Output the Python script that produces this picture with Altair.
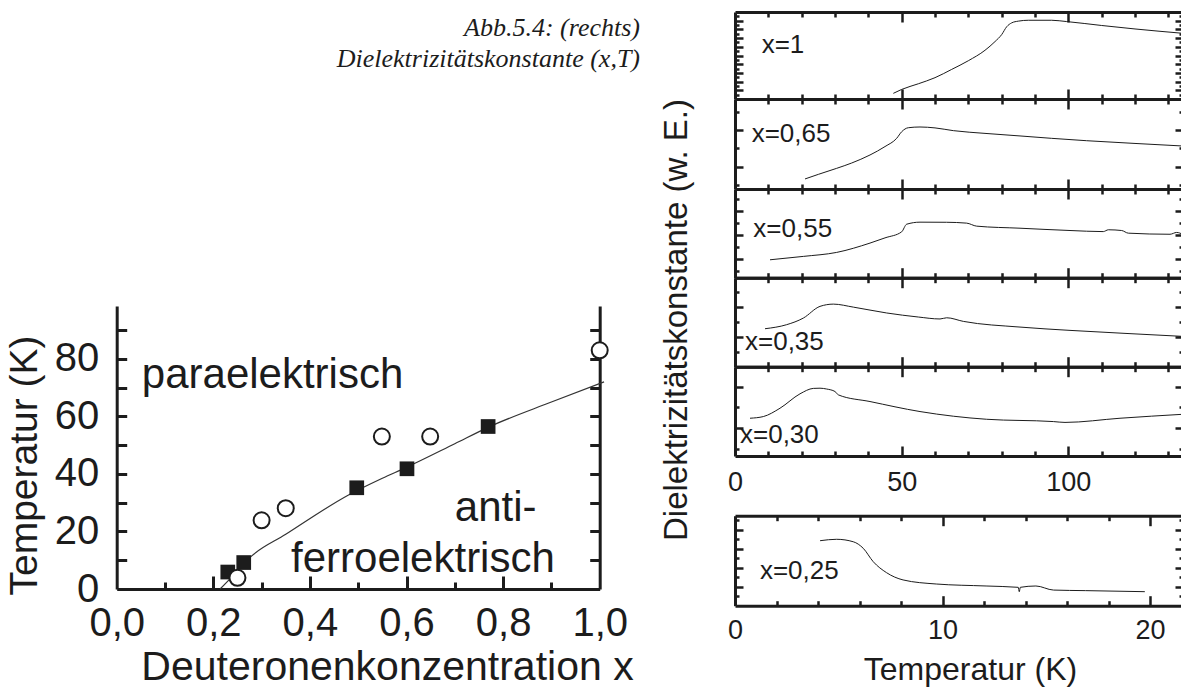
import altair as alt
import pandas as pd

W, H = 1181, 688
INK = "#1c1c1c"
SANS = "Liberation Sans, Arial, sans-serif"
SERIF = "Liberation Serif, Times New Roman, serif"

# ---------------- phase diagram T_N(x) ----------------
square_x = [0.23, 0.263, 0.497, 0.601, 0.769]
square_T = [5.9, 9.2, 35.2, 41.8, 56.5]
circle_x = [0.25, 0.30, 0.35, 0.549, 0.649, 1.0]
circle_T = [3.9, 23.9, 28.1, 53.0, 53.0, 83.0]
guide_x = [0.214, 0.24, 0.276, 0.35, 0.48, 0.55, 0.6, 0.7, 0.77, 0.9, 1.009]
guide_T = [0.0, 4.5, 11.0, 19.0, 32.7, 38.5, 42.3, 50.5, 56.3, 65.0, 72.0]
phase_names = ["paraelektrisch", "anti-", "ferroelektrisch"]
conc_ticks = [0.0, 0.2, 0.4, 0.6, 0.8, 1.0]
temp_ticks = [0, 20, 40, 60, 80]

# ---------------- dielectric constant (arb. units) vs T ----------------
T_100 = [47.5, 50, 55, 60, 65, 70, 75, 78, 80, 81.5, 83, 85, 88, 95, 99.5, 110, 120, 134.4]
eps_100 = [1.3, 2.2, 3.5, 4.9, 6.8, 8.8, 11.2, 13.2, 14.8, 16.6, 17.5, 17.9, 18.1, 18.1, 17.8, 16.9, 16.1, 15.1]

T_065 = [21, 25, 30.5, 35, 40.5, 45, 48.5, 50, 52, 55.5, 60, 65.5, 75, 85.5, 95, 105.5, 120, 134.4]
eps_065 = [1.33, 1.58, 1.91, 2.2, 2.64, 3.1, 3.55, 3.91, 4.13, 4.17, 4.12, 3.97, 3.82, 3.68, 3.55, 3.42, 3.27, 3.13]

T_055 = [10.5, 20.5, 30.5, 40.5, 45, 50, 51.5, 55.5, 63.5, 69.5, 72.5, 85.5, 100.5, 110.5, 112, 116, 118, 130.5, 132.5, 134.4]
eps_055 = [1.94, 2.22, 2.55, 3.32, 3.75, 4.25, 4.88, 5.05, 5.04, 4.97, 4.72, 4.55, 4.36, 4.27, 4.42, 4.36, 4.14, 4.05, 4.2, 4.03]

T_035 = [9, 15.5, 20.5, 25.5, 29.5, 35.5, 45.5, 55, 61.5, 63.5, 68.5, 85.5, 100.5, 117, 134.4]
eps_035 = [2.55, 2.82, 3.26, 4.04, 4.19, 3.99, 3.6, 3.33, 3.2, 3.28, 3.04, 2.66, 2.44, 2.24, 2.04]

T_030 = [4.5, 8.5, 13.5, 19.5, 23.5, 25.5, 27.5, 30, 31, 40.5, 55.5, 75.5, 95.5, 99, 115.5, 134.4]
eps_030 = [2.48, 2.56, 2.96, 3.65, 3.91, 3.92, 3.88, 3.76, 3.6, 3.28, 2.8, 2.43, 2.32, 2.28, 2.48, 2.67]

T_025 = [4.1, 4.9, 5.7, 6.18, 6.66, 7.3, 8.1, 9.7, 12.1, 13.65, 13.7, 13.75, 14.5, 15.35, 16.9, 19.75]
eps_025 = [6.86, 7.01, 6.75, 6.06, 4.65, 3.49, 2.72, 2.29, 2.08, 1.94, 1.48, 1.94, 2.08, 1.65, 1.59, 1.48]

caption_lines = ["Abb.5.4: (rechts)", "Dielektrizitätskonstante (x,T)"]
eps_title = "Dielektrizitätskonstante (w. E.)"
temp_title = "Temperatur (K)"
conc_title = "Deuteronenkonzentration x"

# ---------------- layout ----------------
# frame boxes in pixels: (left, right, bottom, top)
PANELS = [
    dict(tag="x=1", T=T_100, eps=eps_100, xdom=[0, 134.4], ydom=[0, 20], box=(735, 1183, 99, 12),
         xticks=list(range(10, 131, 10)), xlong="datum.value % 50 === 0", yticks=list(range(1, 20)), tag_at=(8.0, 10.5)),
    dict(tag="x=0,65", T=T_065, eps=eps_065, xdom=[0, 134.4], ydom=[0.78, 5.7], box=(735, 1183, 189, 99),
         xticks=list(range(10, 131, 10)), xlong="datum.value % 50 === 0", yticks=[1, 2, 3, 4, 5], tag_at=(5.0, 3.37)),
    dict(tag="x=0,55", T=T_055, eps=eps_055, xdom=[0, 134.4], ydom=[0.46, 7.79], box=(735, 1183, 277.7, 189),
         xticks=list(range(10, 131, 10)), xlong="datum.value % 50 === 0", yticks=[1, 2, 3, 4, 5, 6, 7], tag_at=(5.5, 3.86)),
    dict(tag="x=0,35", T=T_035, eps=eps_035, xdom=[0, 134.4], ydom=[0.02, 5.95], box=(735, 1183, 366.7, 277.7),
         xticks=list(range(10, 131, 10)), xlong="datum.value % 50 === 0", yticks=[1, 2, 3, 4, 5], tag_at=(3.0, 1.15)),
    dict(tag="x=0,30", T=T_030, eps=eps_030, xdom=[0, 134.4], ydom=[0.67, 4.95], box=(735, 1183, 456, 366.7),
         xticks=list(range(10, 131, 10)), xlong="datum.value % 50 === 0", yticks=[1, 2, 3, 4], tag_at=(1.5, 1.31),
         labels=[0, 50, 100], pad=13),
    dict(tag="x=0,25", T=T_025, eps=eps_025, xdom=[0, 21.59], ydom=[0, 9.5], box=(735, 1183, 605.7, 515.7),
         xticks=list(range(2, 21, 2)), xlong="datum.value % 10 === 0", yticks=list(range(1, 10)), tag_at=(1.2, 2.82),
         labels=[0, 10, 20], pad=12, title=temp_title),
]


def cond_size(test, long, short):
    return {"condition": {"test": test, "value": long}, "value": short}


def edge_axis(orient, offset, values, size, width=2.5):
    # frame side drawn as an axis domain, ticks pointing into the panel
    return alt.Axis(orient=orient, offset=offset, values=values, labels=False, title=None,
                    grid=False, domain=True, domainColor=INK, domainWidth=3,
                    ticks=True, tickColor=INK, tickWidth=width, tickSize=size)


layers = []

# ---------------- right column: six ε(T) panels ----------------
for p in PANELS:
    x0, x1, yb, yt = p["box"]
    xs = alt.Scale(domain=p["xdom"], range=[x0, x1])
    ys = alt.Scale(domain=p["ydom"], range=[yb, yt])
    ylong = "datum.value % 2 === 0"
    df = pd.DataFrame({"T": p["T"], "eps": p["eps"]})
    base = alt.Chart(df)

    layers.append(base.mark_line(strokeOpacity=0).encode(
        x=alt.X("T:Q", scale=xs, axis=edge_axis("top", -yb, p["xticks"], cond_size(p["xlong"], 10, 5))),
        y=alt.Y("eps:Q", scale=ys, axis=edge_axis("left", -x1, p["yticks"], cond_size(ylong, 8, 4))),
    ))
    layers.append(base.mark_line(color=INK, strokeWidth=1, interpolate="monotone").encode(
        x=alt.X("T:Q", scale=xs, axis=edge_axis("bottom", yt - H, p["xticks"], cond_size(p["xlong"], 10, 5))),
        y=alt.Y("eps:Q", scale=ys, axis=edge_axis("right", x0 - W, p["yticks"], cond_size(ylong, 8, 4))),
    ))
    if "labels" in p:
        lab = dict(orient="bottom", offset=yb - H, values=p["labels"], ticks=False, tickSize=0,
                   domain=False, grid=False, labelFontSize=27, labelPadding=p["pad"],
                   labelFlush=False, labelOverlap=False, format="d")
        if "title" in p:
            lab.update(title=p["title"], titleFontSize=32, titleX=970, titleY=74,
                       titleBaseline="alphabetic")
        else:
            lab.update(title=None)
        layers.append(base.mark_line(strokeOpacity=0).encode(
            x=alt.X("T:Q", scale=xs, axis=alt.Axis(**lab)),
            y=alt.Y("eps:Q", scale=ys, axis=None),
        ))
    tx, ty = p["tag_at"]
    layers.append(alt.Chart(pd.DataFrame({"T": [tx], "eps": [ty], "tag": [p["tag"]]})).mark_text(
        align="left", baseline="alphabetic", font=SANS, fontSize=26, color=INK
    ).encode(
        x=alt.X("T:Q", scale=xs, axis=None),
        y=alt.Y("eps:Q", scale=ys, axis=None),
        text="tag:N",
    ))

# shared ordinate title of the right column
layers.append(alt.Chart(pd.DataFrame({"t": [eps_title]})).mark_text(
    angle=270, align="center", baseline="alphabetic", font=SANS, fontSize=33, color=INK
).encode(x=alt.value(687), y=alt.value(320), text="t:N"))

# ---------------- left: phase diagram ----------------
PX0, PX1, PYB, PYT = 116.7, 599.7, 589, 306
cx = alt.Scale(domain=[0, 1], range=[PX0, PX1])
cy = alt.Scale(domain=[0, 98.4], range=[PYB, PYT])
inner_T = [10, 20, 30, 40, 50, 60, 70, 80, 90]
inner_x = [0.1, 0.2, 0.3, 0.4, 0.5, 0.6, 0.7, 0.8, 0.9]

guide_df = pd.DataFrame({"x": guide_x, "T": guide_T})
square_df = pd.DataFrame({"x": square_x, "T": square_T})
circle_df = pd.DataFrame({"x": circle_x, "T": circle_T})

layers.append(alt.Chart(guide_df).mark_line(color="#333333", strokeWidth=1.2, interpolate="monotone").encode(
    x=alt.X("x:Q", scale=cx, axis=None),
    y=alt.Y("T:Q", scale=cy, axis=edge_axis("left", -PX1, inner_T, 10, 3)),
))
layers.append(alt.Chart(square_df).mark_point(shape="square", filled=True, size=216, color=INK, opacity=1).encode(
    x=alt.X("x:Q", scale=cx, axis=edge_axis(
        "top", -PYB, inner_x,
        cond_size("abs(datum.value * 5 - round(datum.value * 5)) < 0.001", 13, 7), 3)),
    y=alt.Y("T:Q", scale=cy, axis=edge_axis("right", PX0 - W, inner_T, 10, 3)),
))
layers.append(alt.Chart(circle_df).mark_point(shape="circle", filled=True, size=256, fill="white",
                                               stroke=INK, strokeWidth=2, opacity=1).encode(
    x=alt.X("x:Q", scale=cx, axis=alt.Axis(
        orient="bottom", offset=PYB - H, values=conc_ticks, ticks=False, tickSize=0, domain=False,
        grid=False, labelFontSize=40, labelPadding=14, labelFlush=False, labelOverlap=False,
        labelExpr="replace(format(datum.value, '.1f'), '.', ',')",
        title=conc_title, titleFontSize=41, titleX=387, titleY=90, titleBaseline="alphabetic")),
    y=alt.Y("T:Q", scale=cy, axis=alt.Axis(
        orient="left", offset=-PX0, values=temp_ticks, ticks=False, tickSize=0, domain=False,
        grid=False, labelFontSize=40, labelPadding=18, labelOverlap=False, format="d",
        title=temp_title, titleFontSize=39, titleAngle=270, titleX=-80, titleY=465,
        titleBaseline="alphabetic")),
))

phase_at = [(0.052, 69.9), (0.70, 23.7), (0.361, 5.9)]
for name, (ax, aT) in zip(phase_names, phase_at):
    layers.append(alt.Chart(pd.DataFrame({"x": [ax], "T": [aT], "s": [name]})).mark_text(
        align="left", baseline="alphabetic", font=SANS, fontSize=42, color=INK
    ).encode(
        x=alt.X("x:Q", scale=cx, axis=None),
        y=alt.Y("T:Q", scale=cy, axis=None),
        text="s:N",
    ))

# figure caption
for line, base_y in zip(caption_lines, [36, 67]):
    layers.append(alt.Chart(pd.DataFrame({"s": [line]})).mark_text(
        align="right", baseline="alphabetic", font=SERIF, fontStyle="italic", fontSize=26, color=INK
    ).encode(x=alt.value(640), y=alt.value(base_y), text="s:N"))

chart = (
    alt.layer(*layers)
    .resolve_scale(x="independent", y="independent")
    .resolve_axis(x="independent", y="independent")
    .properties(width=W, height=H, autosize=alt.AutoSizeParams(type="none"), padding=0,
                background="white")
    .configure_view(strokeWidth=0)
    .configure_axis(labelFont=SANS, titleFont=SANS, labelColor=INK, titleColor=INK,
                    titleFontWeight="normal", grid=False)
)

chart.save("out.html", embed_options={"renderer": "svg", "actions": False})
